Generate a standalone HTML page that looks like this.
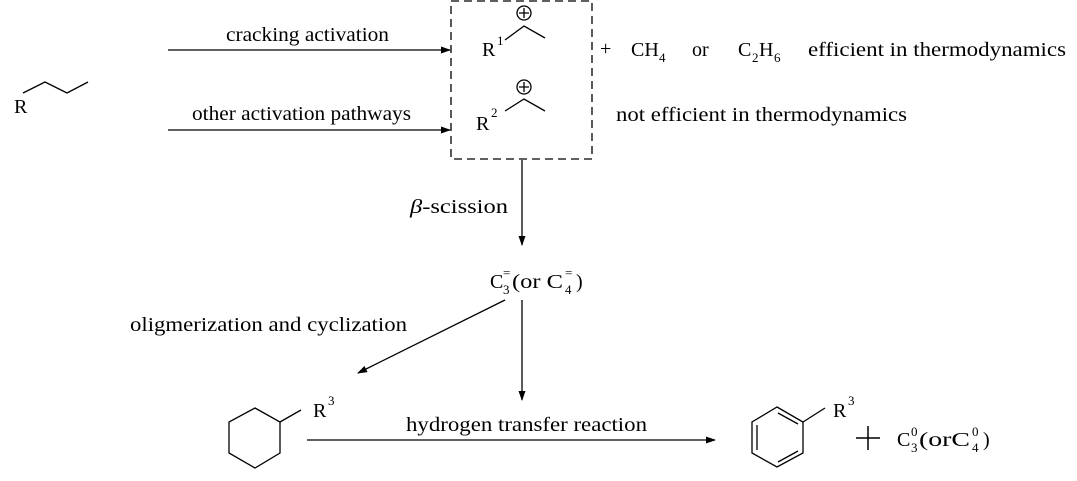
<!DOCTYPE html>
<html><head><style>body{margin:0;background:#fff}svg{display:block}text{font-family:"Liberation Serif",serif;fill:#000}.s{font-size:13px}.n{font-size:20px}</style></head><body>
<svg width="1077" height="481" viewBox="0 0 1077 481" xmlns="http://www.w3.org/2000/svg">
<defs><marker id="a" markerWidth="10" markerHeight="8" refX="9" refY="4" orient="auto" markerUnits="userSpaceOnUse"><path d="M0,0.5 L10,4 L0,7.5 z" fill="#000"/></marker></defs>
<g stroke="#000" stroke-width="1.3" fill="none">
<polyline points="23,93 45,82 67,93 88,82"/>
<line x1="168" y1="50" x2="450" y2="50" marker-end="url(#a)"/>
<line x1="168" y1="130" x2="450" y2="130" marker-end="url(#a)"/>
<rect x="451" y="1" width="141" height="158" stroke-dasharray="8,5"/>
<polyline points="505,40 524,26 545,38"/>
<circle cx="524" cy="13" r="7"/><path d="M519,13h10M524,8v10"/>
<polyline points="505,111 524,99 545,111"/>
<circle cx="524" cy="87" r="7"/><path d="M519,87h10M524,82v10"/>
<line x1="522" y1="160" x2="522" y2="245" marker-end="url(#a)"/>
<line x1="505" y1="300" x2="358" y2="373" marker-end="url(#a)"/>
<line x1="522" y1="300" x2="522" y2="400" marker-end="url(#a)"/>
<line x1="307" y1="440" x2="715" y2="440" marker-end="url(#a)"/>
<polygon points="255,408 280,422 280,453 255,468 229,453 229,422"/>
<line x1="280" y1="422" x2="301" y2="410"/>
<polygon points="777,407 803,422 803,453 777,467 752,453 752,422"/>
<path d="M778,413 L798,424 M798,451 L778,462 M757,450 L757,425"/>
<line x1="803" y1="422" x2="825" y2="408"/>
<path d="M856,438h24M868,426v24" stroke-width="1.5"/>
</g>
<g class="n">
<text x="14" y="113">R</text>
<text x="226" y="41" textLength="163" lengthAdjust="spacingAndGlyphs">cracking activation</text>
<text x="192" y="120" textLength="219" lengthAdjust="spacingAndGlyphs">other activation pathways</text>
<text x="482" y="56">R</text>
<text x="476" y="130">R</text>
<text x="600" y="55">+</text>
<text x="631" y="56">CH</text>
<text x="692" y="56">or</text>
<text x="738" y="56">C</text><text x="759" y="56">H</text>
<text x="808" y="56" textLength="258" lengthAdjust="spacingAndGlyphs">efficient in thermodynamics</text>
<text x="616" y="121" textLength="291" lengthAdjust="spacingAndGlyphs">not efficient in thermodynamics</text>
<text x="410" y="213" textLength="98" lengthAdjust="spacingAndGlyphs"><tspan font-style="italic">β</tspan>-scission</text>
<text x="490" y="288">C</text>
<text x="512" y="288" textLength="51" lengthAdjust="spacingAndGlyphs">(or C</text><text x="576" y="288">)</text>
<text x="130" y="331" textLength="277" lengthAdjust="spacingAndGlyphs">oligmerization and cyclization</text>
<text x="313" y="417">R</text>
<text x="406" y="431" textLength="241" lengthAdjust="spacingAndGlyphs">hydrogen transfer reaction</text>
<text x="833" y="417">R</text>
<text x="897" y="446">C</text>
<text x="919" y="446" textLength="51" lengthAdjust="spacingAndGlyphs">(orC</text><text x="983" y="446">)</text>
</g>
<g class="s">
<text x="497" y="45">1</text>
<text x="491" y="117">2</text>
<text x="659" y="62">4</text>
<text x="752" y="62">2</text><text x="774" y="62">6</text>
<text x="503" y="294">3</text><text x="503" y="277">=</text>
<text x="565" y="294">4</text><text x="565" y="277">=</text>
<text x="328" y="405">3</text>
<text x="848" y="405">3</text>
<text x="911" y="452">3</text><text x="911" y="436">0</text>
<text x="972" y="452">4</text><text x="972" y="436">0</text>
</g>
</svg>
</body></html>
